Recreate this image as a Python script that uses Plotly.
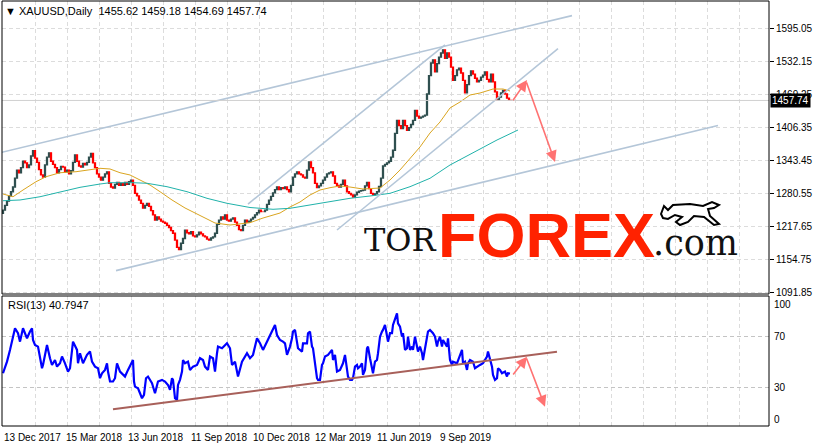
import plotly.graph_objects as go

# ---------------- data ----------------
# daily closes sampled every 2 bars, starting 13 Dec 2017
closes = [
    1249, 1258, 1266, 1276, 1284, 1293, 1310, 1325, 1320, 1330,
    1342, 1339, 1330, 1335, 1352, 1362, 1348, 1340, 1326, 1316,
    1312, 1335, 1350, 1358, 1342, 1336, 1330, 1320, 1326, 1332,
    1331, 1322, 1325, 1318, 1324, 1340, 1354, 1342, 1333, 1331,
    1338, 1335, 1340, 1350, 1357, 1339, 1330, 1318, 1312, 1306,
    1312, 1318, 1322, 1300, 1293, 1291, 1298, 1302, 1296, 1300,
    1296, 1302, 1298, 1303, 1306, 1296, 1281, 1276, 1268, 1262,
    1253, 1258, 1262, 1256, 1248, 1240, 1230, 1236, 1232, 1228,
    1226, 1224, 1220, 1216, 1210, 1205, 1192, 1178, 1174, 1186,
    1195, 1211, 1206, 1204, 1208, 1200, 1198, 1202, 1207, 1204,
    1200, 1198, 1194, 1192, 1196, 1198, 1205, 1222, 1230, 1236,
    1232, 1240, 1230, 1228, 1232, 1234, 1226, 1220, 1212, 1210,
    1220, 1230, 1226, 1228, 1232, 1235, 1240, 1244, 1249, 1246,
    1246, 1249, 1260, 1268, 1275, 1282, 1288, 1293, 1288, 1292,
    1290, 1293, 1288, 1284, 1296, 1312, 1318, 1322, 1318, 1316,
    1312, 1310, 1325, 1341, 1330, 1320, 1300, 1292, 1295, 1300,
    1306, 1312, 1318, 1320, 1322, 1314, 1300, 1296, 1293, 1298,
    1306, 1295, 1284, 1281, 1278, 1274, 1278, 1283, 1285, 1286,
    1287, 1295, 1302, 1290, 1281, 1278, 1280, 1284, 1294, 1310,
    1333, 1336, 1339, 1342, 1350, 1363, 1395, 1420, 1410, 1404,
    1420, 1410, 1401, 1406, 1412, 1420, 1439, 1428, 1424, 1426,
    1428, 1430, 1470, 1505, 1529, 1535, 1512, 1528, 1540, 1548,
    1554, 1538, 1548, 1540, 1521, 1496, 1505, 1516, 1519, 1510,
    1496, 1472, 1488, 1505, 1514, 1508, 1500, 1493, 1496, 1502,
    1506, 1512, 1498, 1493, 1508, 1493, 1474, 1458, 1464, 1472,
    1477, 1470, 1462, 1458, 1457.74,
]
first_open = 1243.0
bar_step = 2

ma_fast_bar = [0, 10, 20, 33, 43, 57, 73, 87, 97, 107, 117, 127, 137, 147, 157, 169,
               182, 199, 212, 227, 247, 260, 277, 287, 297, 307, 317, 327, 337, 347,
               360, 377, 387, 397, 407, 417, 427, 437, 447, 457, 467, 477, 490, 500, 507]
ma_fast_val = [1279.7, 1274.5, 1287.3, 1303.1, 1312.6, 1320.2, 1322.1, 1325.4, 1328.6,
               1327.3, 1320.2, 1315.9, 1306.4, 1296.8, 1284.1, 1268.3, 1253.1, 1236.5,
               1224.5, 1220.7, 1225.1, 1234.0, 1243.5, 1255.0, 1264.5, 1277.8, 1287.3,
               1291.7, 1295.0, 1293.0, 1289.2, 1291.1, 1306.4, 1325.4, 1348.2, 1369.2,
               1395.8, 1416.7, 1443.4, 1454.8, 1468.1, 1471.9, 1479.5, 1479.5, 1475.7]

ma_slow_bar = [0, 17, 37, 57, 77, 97, 107, 130, 144, 164, 184, 204, 224, 247, 270, 287,
               307, 327, 347, 367, 387, 407, 427, 447, 467, 477, 494, 515]
ma_slow_val = [1266.9, 1268.3, 1274.5, 1284.1, 1292.4, 1298.7, 1301.2, 1301.2, 1300.1,
               1293.6, 1284.1, 1271.5, 1262.0, 1254.0, 1250.6, 1252.5, 1258.8, 1265.0,
               1271.5, 1275.9, 1281.0, 1293.6, 1309.6, 1334.9, 1355.0, 1366.0, 1382.5,
               1401.5]

rsi_bar = [0, 4, 7, 10, 12, 15, 17, 20, 24, 27, 29, 30, 32, 35, 37, 39, 40, 44, 47, 49,
           52, 54, 57, 59, 62, 65, 67, 70, 74, 75, 77, 80, 84, 87, 89, 92, 95, 97, 99, 102,
           104, 105, 107, 110, 112, 114, 117, 119, 122, 125, 129, 130, 131, 132, 135, 137,
           139, 141, 143, 145, 149, 152, 155, 159, 162, 165, 167, 169, 170, 172, 174, 175,
           177, 179, 180, 182, 185, 187, 190, 194, 197, 200, 202, 205, 207, 210, 212, 214,
           215, 219, 224, 227, 229, 232, 235, 239, 242, 244, 247, 250, 254, 257, 260, 264,
           267, 270, 272, 274, 277, 280, 282, 284, 287, 289, 290, 292, 294, 295, 299, 300,
           304, 305, 307, 309, 310, 312, 314, 315, 317, 319, 320, 322, 325, 329, 330, 332,
           334, 337, 340, 342, 344, 345, 347, 349, 350, 352, 354, 355, 357, 359, 360, 362,
           364, 365, 367, 369, 370, 372, 374, 375, 377, 379, 380, 382, 384, 385, 387, 389,
           390, 392, 394, 395, 397, 399, 400, 402, 404, 405, 407, 409, 410, 412, 414, 415,
           417, 419, 420, 422, 424, 425, 427, 429, 430, 432, 434, 435, 437, 439, 440, 442,
           444, 445, 447, 449, 450, 454, 457, 459, 460, 462, 464, 465, 467, 470, 472, 474,
           477, 480, 484, 485, 487, 489, 490, 492, 494, 495, 497, 499, 502, 504, 505, 507]
rsi_val = [41.0, 50.1, 59.3, 69.7, 76.3, 72.4, 65.8, 76.3, 68.4, 73.7, 76.3, 67.1, 63.2,
           61.9, 52.8, 44.9, 47.5, 63.2, 52.8, 47.5, 51.4, 46.2, 48.8, 54.1, 48.8, 42.3,
           44.9, 65.8, 59.3, 48.8, 56.7, 48.8, 55.4, 58.0, 50.1, 46.2, 44.9, 37.1, 41.0,
           43.6, 48.8, 42.3, 34.5, 34.5, 37.1, 48.8, 42.3, 41.0, 38.4, 43.6, 50.1, 51.4,
           34.5, 30.5, 29.2, 25.3, 21.4, 24.0, 37.1, 38.4, 33.2, 25.3, 34.5, 35.8, 34.5,
           31.8, 27.9, 37.1, 35.8, 21.4, 20.1, 31.8, 35.8, 42.3, 51.4, 48.8, 50.1, 43.6,
           46.2, 47.5, 52.8, 51.4, 46.2, 43.6, 54.1, 52.8, 42.3, 56.7, 61.9, 60.6, 64.5,
           60.6, 47.5, 50.1, 38.4, 50.1, 54.1, 56.7, 52.8, 55.4, 68.4, 64.5, 59.3, 65.8,
           71.0, 75.0, 78.9, 71.0, 67.1, 65.8, 64.5, 55.4, 61.9, 68.4, 73.7, 75.0, 67.1,
           60.6, 58.0, 64.5, 64.5, 72.4, 73.7, 61.9, 60.6, 47.5, 37.1, 35.8, 35.8, 47.5,
           48.8, 54.1, 55.4, 59.3, 51.4, 55.4, 42.3, 43.6, 48.8, 55.4, 42.3, 38.4, 35.8,
           35.8, 37.1, 46.2, 47.5, 44.9, 46.2, 48.8, 39.7, 43.6, 60.6, 61.9, 52.8, 43.6,
           41.0, 50.1, 51.4, 56.7, 69.7, 73.7, 75.0, 78.9, 71.0, 65.8, 72.4, 72.4, 78.9,
           84.1, 88.0, 80.2, 77.6, 69.7, 72.4, 59.3, 60.6, 69.7, 59.3, 61.9, 59.3, 69.7,
           60.6, 58.0, 61.9, 56.7, 51.4, 60.6, 67.1, 73.7, 75.0, 73.7, 72.4, 69.7, 61.9,
           65.8, 69.7, 61.9, 67.1, 64.5, 61.9, 68.4, 51.4, 47.5, 50.1, 48.8, 55.4, 59.3,
           48.8, 50.1, 43.6, 48.8, 51.4, 50.1, 44.9, 46.2, 47.5, 48.8, 54.1, 58.0, 52.8,
           46.2, 39.7, 35.8, 37.1, 44.9, 43.6, 41.0, 42.3, 38.4, 41.0, 40.8]

price_ticks = [1595.05, 1532.15, 1469.25, 1406.35, 1343.45, 1280.55, 1217.65, 1154.75, 1091.85]
rsi_levels = [30, 70]
rsi_labels = [100, 70, 30, 0]
date_labels = ["13 Dec 2017", "15 Mar 2018", "13 Jun 2018", "11 Sep 2018",
               "10 Dec 2018", "12 Mar 2019", "11 Jun 2019", "9 Sep 2019"]
date_label_bars = [0, 62, 124, 187, 249, 311, 373, 436]
grid_bars = list(range(0, 767, 32))

# trend lines: (bar0, price0, bar1, price1)
trend_lines = [
    (-3, 1358.3, 569, 1619.2),
    (113, 1133.9, 715, 1410.1),
    (245, 1260.6, 442, 1563.3),
    (334, 1211.2, 555, 1556.2),
]
rsi_trend = (110, 12.7, 554, 57.9)
# forecast arrows: (tail bar, tail value, head bar, head value)
price_arrows = [(509, 1455.3, 524, 1496.7), (523, 1494.8, 552, 1340.6)]
rsi_arrows = [(509, 38.9, 524, 54.0), (523, 53.8, 542, 14.8)]

symbol = "XAUUSD,Daily"
ohlc_last = ["1455.62", "1459.18", "1454.69", "1457.74"]
last_price = 1457.74
rsi_title = "RSI(13) 40.7947"

# ---------------- figure ----------------
W, H = 815, 447
ML, MR, MT, MB = 2, 46, 1, 21
PW, PH = W - ML - MR, H - MT - MB


def px(x):
    return (x - ML) / PW


def py(y):
    return (H - MB - y) / PH


bars = [bar_step * k for k in range(len(closes))]
opens = [first_open] + closes[:-1]
highs = [max(o, c) for o, c in zip(opens, closes)]
lows = [min(o, c) for o, c in zip(opens, closes)]

fig = go.Figure()
fig.add_trace(go.Candlestick(
    x=bars, open=opens, high=highs, low=lows, close=closes,
    xaxis="x", yaxis="y",
    increasing=dict(line=dict(color="#2F4F4F", width=1.3), fillcolor="#2F4F4F"),
    decreasing=dict(line=dict(color="#FF0000", width=1.3), fillcolor="#FF0000"),
    hoverinfo="skip",
))
fig.add_trace(go.Scatter(x=ma_fast_bar, y=ma_fast_val, mode="lines",
                         line=dict(color="#DAA520", width=1), xaxis="x", yaxis="y"))
fig.add_trace(go.Scatter(x=ma_slow_bar, y=ma_slow_val, mode="lines",
                         line=dict(color="#20B2AA", width=1), xaxis="x", yaxis="y"))
for (b0, p0, b1, p1) in trend_lines:
    fig.add_trace(go.Scatter(x=[b0, b1], y=[p0, p1], mode="lines",
                             line=dict(color="#B4C6D8", width=1.6), xaxis="x", yaxis="y"))
fig.add_trace(go.Scatter(x=rsi_bar, y=rsi_val, mode="lines",
                         line=dict(color="#0000FF", width=2.2), xaxis="x2", yaxis="y2"))
fig.add_trace(go.Scatter(x=[rsi_trend[0], rsi_trend[2]], y=[rsi_trend[1], rsi_trend[3]],
                         mode="lines", line=dict(color="#A8605A", width=2),
                         xaxis="x2", yaxis="y2"))

grid_color = "#DCDCDC"
main_bottom_px, rsi_top_px = 294, 296
main_dom = [py(main_bottom_px), 1]
rsi_dom = [0, py(rsi_top_px)]

fig.update_layout(
    width=W, height=H, margin=dict(l=ML, r=MR, t=MT, b=MB, pad=0, autoexpand=False),
    paper_bgcolor="white", plot_bgcolor="white", showlegend=False,
    font=dict(family="Liberation Sans, Arial, sans-serif", size=10, color="black"),
    xaxis=dict(domain=[0, 1], anchor="y", range=[-1, 766], tickvals=grid_bars,
               showticklabels=False, ticks="", showgrid=True, gridcolor=grid_color,
               griddash="4px,3px", zeroline=False, rangeslider=dict(visible=False),
               fixedrange=True),
    xaxis2=dict(domain=[0, 1], anchor="y2", matches="x", range=[-1, 766],
                tickvals=grid_bars, showticklabels=False, ticks="", showgrid=True,
                gridcolor=grid_color, griddash="4px,3px", zeroline=False, fixedrange=True),
    yaxis=dict(domain=main_dom, anchor="x", side="right", range=[1089.4, 1647.0],
               tickvals=price_ticks, ticktext=["%.2f" % v for v in price_ticks],
               ticks="outside", ticklen=4, tickcolor="black", showgrid=True,
               gridcolor=grid_color, griddash="4px,3px", zeroline=False,
               tickfont=dict(size=10), fixedrange=True),
    yaxis2=dict(domain=rsi_dom, anchor="x2", side="right", range=[-0.4, 101.6],
                tickvals=rsi_levels, showticklabels=False, ticks="", showgrid=True,
                gridcolor="#C4C4C4", griddash="4px,3px", zeroline=False, fixedrange=True),
)

shapes = []
# bid line
shapes.append(dict(type="line", xref="x domain", yref="y", x0=0, x1=1,
                   y0=last_price, y1=last_price, line=dict(color="#D0D0D0", width=1)))
# panel frames
shapes.append(dict(type="rect", xref="x domain", yref="y domain", x0=0, x1=1, y0=0, y1=1,
                   line=dict(color="black", width=1)))
shapes.append(dict(type="rect", xref="x2 domain", yref="y2 domain", x0=0, x1=1, y0=0, y1=1,
                   line=dict(color="black", width=1)))
# bull icon of the logo
bull_pts = [(661, 214), (664, 206), (668, 210), (673, 205), (690, 204), (703, 206),
            (712, 202), (719, 205), (714, 208), (708, 209), (710, 216), (719, 224),
            (714, 225), (704, 217), (694, 216), (688, 222), (680, 225), (676, 222),
            (682, 217), (675, 215), (668, 219), (663, 218)]
path = "M " + " L ".join("%.4f,%.4f" % (px(x), py(y)) for x, y in bull_pts) + " Z"
shapes.append(dict(type="path", xref="paper", yref="paper", path=path,
                   fillcolor="white", line=dict(color="black", width=2)))
fig.update_layout(shapes=shapes)

ann = []
ann.append(dict(xref="paper", yref="paper", x=px(3), y=py(11), xanchor="left",
                yanchor="middle", showarrow=False,
                text="\u25BC " + symbol + "  " + " ".join(ohlc_last),
                font=dict(size=11, color="black")))
ann.append(dict(xref="paper", yref="paper", x=px(6), y=py(305), xanchor="left",
                yanchor="middle", showarrow=False, text=rsi_title,
                font=dict(size=11, color="black")))
for lbl, b in zip(date_labels, date_label_bars):
    ann.append(dict(xref="x2", yref="paper", x=b, y=py(437), xanchor="left",
                    yanchor="middle", showarrow=False, text=lbl, xshift=-1,
                    font=dict(size=10, color="black")))
for v in rsi_labels:
    shift = -6 if v == 100 else (6 if v == 0 else 0)
    ann.append(dict(xref="paper", yref="y2", x=1, y=v, xanchor="left", yanchor="middle",
                    showarrow=False, text=str(v), xshift=3, yshift=shift,
                    font=dict(size=10, color="black")))
ann.append(dict(xref="paper", yref="y", x=1, y=last_price, xanchor="left",
                yanchor="middle", showarrow=False, text="%.2f" % last_price, xshift=1,
                bgcolor="black", borderpad=1, font=dict(size=10, color="white")))
for (b0, v0, b1, v1) in price_arrows:
    ann.append(dict(xref="x", yref="y", axref="x", ayref="y", x=b1, y=v1, ax=b0, ay=v0,
                    text="", showarrow=True, arrowhead=2, arrowsize=1.4, arrowwidth=1.6,
                    arrowcolor="rgba(255,90,90,0.85)"))
for (b0, v0, b1, v1) in rsi_arrows:
    ann.append(dict(xref="x2", yref="y2", axref="x2", ayref="y2", x=b1, y=v1, ax=b0, ay=v0,
                    text="", showarrow=True, arrowhead=2, arrowsize=1.4, arrowwidth=1.6,
                    arrowcolor="rgba(255,90,90,0.85)"))
# logo text
ann.append(dict(xref="paper", yref="paper", x=px(362), y=py(240), xanchor="left",
                yanchor="middle", showarrow=False, text="TOR",
                font=dict(family="DejaVu Serif", size=32, color="#111111")))
ann.append(dict(xref="paper", yref="paper", x=px(436), y=py(235), xanchor="left",
                yanchor="middle", showarrow=False, text="<b>FOREX</b>",
                font=dict(family="Liberation Sans", size=63, color="#FF2200")))
ann.append(dict(xref="paper", yref="paper", x=px(651), y=py(243), xanchor="left",
                yanchor="middle", showarrow=False, text=".com",
                font=dict(family="DejaVu Serif", size=35, color="#111111")))
fig.update_layout(annotations=ann)

fig.write_html("out.html", config={"displayModeBar": False},
               post_script="document.body.style.margin='0';document.body.style.overflow='hidden';")
